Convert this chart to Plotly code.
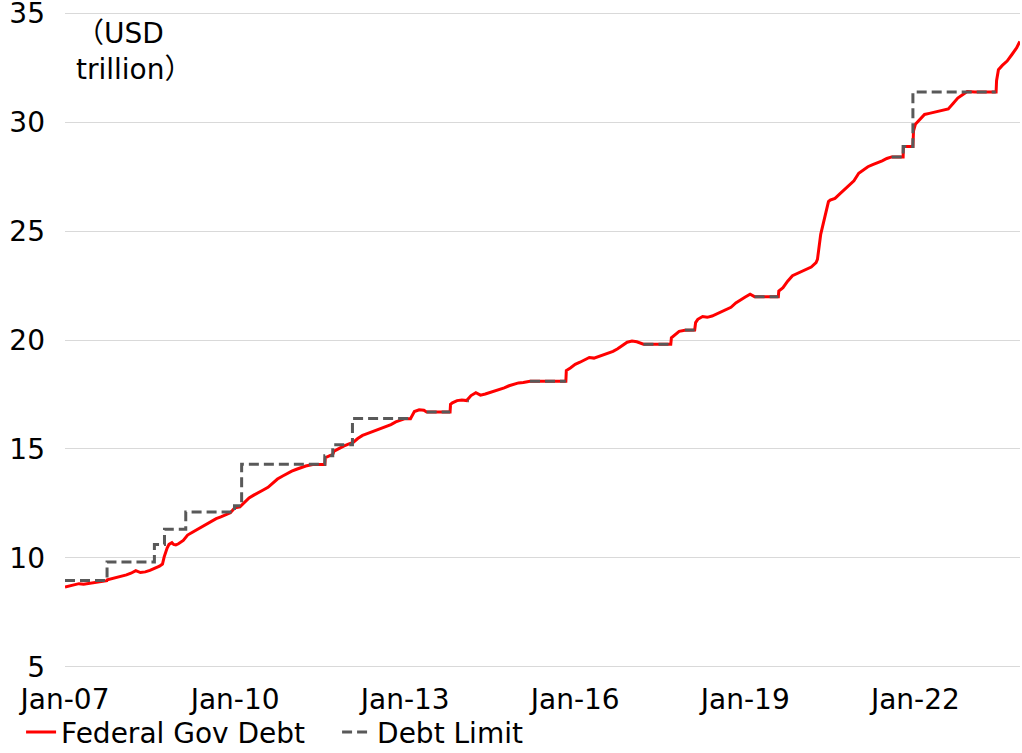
import plotly.graph_objects as go

# ---- Federal government debt (USD trillion) ----
debt_dates = [
    "2007-01-01","2007-02-01","2007-03-01","2007-04-01","2007-05-01","2007-06-01","2007-07-01","2007-08-01","2007-09-01","2007-09-28","2007-10-01","2007-11-01","2007-12-01",
    "2008-01-01","2008-02-01","2008-03-01","2008-04-01","2008-05-01","2008-06-01","2008-07-01","2008-08-01","2008-09-01","2008-09-20","2008-10-01","2008-10-20","2008-11-01","2008-11-20","2008-12-01","2008-12-15",
    "2009-01-01","2009-02-01","2009-03-01","2009-04-01","2009-05-01","2009-06-01","2009-07-01","2009-08-01","2009-09-01","2009-10-01","2009-11-01","2009-12-01","2009-12-28",
    "2010-01-01","2010-02-01","2010-03-01","2010-04-01","2010-05-01","2010-06-01","2010-07-01","2010-08-01","2010-09-01","2010-10-01","2010-11-01","2010-12-01",
    "2011-01-01","2011-02-01","2011-03-01","2011-04-01","2011-05-16","2011-08-02","2011-08-05","2011-09-01","2011-09-22","2011-10-01","2011-11-01","2011-12-01",
    "2012-01-01","2012-02-01","2012-03-01","2012-04-01","2012-05-01","2012-06-01","2012-07-01","2012-08-01","2012-09-01","2012-10-01","2012-11-01","2012-12-01","2012-12-31",
    "2013-02-04","2013-02-15","2013-03-01","2013-04-01","2013-05-01","2013-05-19","2013-10-17","2013-10-20","2013-11-01","2013-12-01",
    "2014-01-01","2014-02-01","2014-03-01","2014-04-01","2014-05-01","2014-06-01","2014-07-01","2014-08-01","2014-09-01","2014-10-01","2014-11-01","2014-12-01",
    "2015-01-01","2015-02-01","2015-03-16","2015-11-02","2015-11-05","2015-12-01",
    "2016-01-01","2016-02-01","2016-03-01","2016-04-01","2016-05-01","2016-06-01","2016-07-01","2016-08-01","2016-09-01","2016-10-01","2016-11-01","2016-12-01",
    "2017-01-01","2017-02-01","2017-03-16","2017-09-08","2017-09-12","2017-10-01","2017-11-01","2017-12-08",
    "2018-02-09","2018-02-15","2018-03-01","2018-04-01","2018-05-01","2018-06-01","2018-07-01","2018-08-01","2018-09-01","2018-10-01","2018-11-01","2018-12-01",
    "2019-01-01","2019-02-01","2019-03-02","2019-08-02","2019-08-05","2019-09-01","2019-10-01","2019-11-01","2019-12-01",
    "2020-01-01","2020-02-01","2020-03-01","2020-04-01","2020-04-10","2020-05-01","2020-06-01","2020-06-20","2020-07-01","2020-08-01","2020-09-01","2020-10-01","2020-11-01","2020-12-01",
    "2021-01-01","2021-02-01","2021-03-01","2021-04-01","2021-05-01","2021-06-01","2021-07-01","2021-08-01","2021-10-14","2021-10-16","2021-12-16","2021-12-20",
    "2022-01-01","2022-02-01","2022-03-01","2022-04-01","2022-05-01","2022-06-01","2022-07-01","2022-08-01","2022-09-01","2022-10-01","2022-11-01","2022-12-01",
    "2023-01-19","2023-06-05","2023-06-08","2023-06-20","2023-07-15","2023-08-15","2023-09-15","2023-10-15","2023-11-05",
]
debt_values = [
    8.67,8.72,8.80,8.82,8.79,8.82,8.86,8.90,8.94,8.96,9.00,9.05,9.12,
    9.17,9.22,9.30,9.42,9.33,9.36,9.43,9.52,9.62,9.72,10.05,10.45,10.62,10.70,10.62,10.60,
    10.65,10.80,11.05,11.18,11.30,11.45,11.58,11.68,11.80,11.88,11.98,12.07,12.28,
    12.30,12.34,12.55,12.75,12.88,13.02,13.12,13.24,13.42,13.62,13.75,13.87,
    13.98,14.07,14.15,14.22,14.29,14.29,14.60,14.69,14.75,14.90,15.03,15.13,
    15.22,15.30,15.48,15.62,15.70,15.78,15.88,15.96,16.03,16.12,16.24,16.33,16.39,
    16.39,16.55,16.72,16.80,16.78,16.70,16.70,17.05,17.12,17.22,
    17.25,17.22,17.45,17.58,17.47,17.52,17.58,17.65,17.72,17.80,17.90,17.97,
    18.03,18.05,18.11,18.11,18.60,18.72,
    18.88,18.98,19.08,19.20,19.17,19.24,19.33,19.40,19.48,19.60,19.75,19.90,
    19.95,19.92,19.81,19.81,20.10,20.20,20.40,20.45,
    20.46,20.80,20.95,21.08,21.04,21.10,21.20,21.30,21.40,21.50,21.70,21.85,
    21.97,22.10,21.99,21.99,22.25,22.40,22.70,22.95,23.05,
    23.15,23.22,23.35,23.55,23.70,24.85,25.85,26.35,26.42,26.50,26.70,26.90,27.10,27.30,
    27.65,27.80,27.95,28.05,28.12,28.22,28.33,28.40,28.40,28.88,28.88,29.60,
    29.90,30.15,30.35,30.40,30.45,30.50,30.55,30.60,30.85,31.10,31.25,31.40,
    31.38,31.38,31.90,32.40,32.60,32.80,33.10,33.40,33.70,
]

# ---- Statutory debt limit (USD trillion); gaps = suspension periods ----
limit_start = ["2007-01-01","2007-09-29","2008-07-30","2008-10-03","2009-02-17","2009-12-28","2010-02-12","2011-08-02","2011-09-22","2012-01-27",
               "2013-05-19","2014-02-07","2015-03-16","2017-03-16","2017-12-08","2019-03-02","2021-08-01","2021-10-14","2021-12-16"]
limit_end   = ["2007-09-29","2008-07-30","2008-10-03","2009-02-17","2009-12-28","2010-02-12","2011-08-02","2011-09-22","2012-01-27","2013-02-04",
               "2013-10-17","2014-02-15","2015-11-02","2017-09-08","2018-02-09","2019-08-02","2021-10-14","2021-12-16","2023-06-03"]
limit_value = [8.965, 9.815, 10.615, 11.315, 12.104, 12.394, 14.294, 14.694, 15.194, 16.394,
               16.699, 17.212, 18.113, 19.809, 20.456, 21.988, 28.401, 28.881, 31.381]

# ---- axis ticks ----
x_tickvals = ["2007-01-01","2010-01-01","2013-01-01","2016-01-01","2019-01-01","2022-01-01"]
x_ticktext = ["Jan-07","Jan-10","Jan-13","Jan-16","Jan-19","Jan-22"]
y_tickvals = [5, 10, 15, 20, 25, 30, 35]

# build step path for the limit
lx, ly = [], []
for i, (s, e, v) in enumerate(zip(limit_start, limit_end, limit_value)):
    if i > 0 and s != limit_end[i - 1]:
        lx.append(None); ly.append(None)
    lx += [s, e]; ly += [v, v]

FONT = "DejaVu Sans, Noto Sans CJK JP"
FS = 28
fig = go.Figure()
fig.add_trace(go.Scatter(x=debt_dates, y=debt_values, mode="lines", name="Federal Gov Debt",
                         line=dict(color="#ff0000", width=3), cliponaxis=False))
fig.add_trace(go.Scatter(x=lx, y=ly, mode="lines", name="Debt Limit", connectgaps=False,
                         line=dict(color="#595959", width=3, dash="10px,5px")))

fig.update_layout(
    width=1022, height=753,
    margin=dict(l=65, r=2, t=12, b=85, autoexpand=False),
    paper_bgcolor="white", plot_bgcolor="white",
    font=dict(family=FONT, size=FS, color="#000000"),
    showlegend=True,
    legend=dict(orientation="h", x=-0.046, y=-0.06, xanchor="left", yanchor="top",
                font=dict(size=FS), bgcolor="rgba(0,0,0,0)", itemwidth=30, tracegroupgap=0,
                entrywidth=271, entrywidthmode="pixels"),
    annotations=[dict(text="（USD<br>trillion）", xref="paper", yref="paper", x=0.0094, y=0.94,
                      xanchor="left", yanchor="middle", showarrow=False, align="left",
                      font=dict(size=FS))],
)
fig.update_xaxes(type="date", range=["2007-01-01", "2023-11-06"], tickvals=x_tickvals, ticktext=x_ticktext,
                 showgrid=False, showline=False, zeroline=False, ticks="", ticklabelstandoff=12,
                 automargin=False, ticklabeloverflow="allow")
fig.update_yaxes(range=[4.95, 35.05], tickvals=y_tickvals, showgrid=True, gridcolor="#d9d9d9", gridwidth=1,
                 showline=False, zeroline=False, ticks="", ticklabelstandoff=19, automargin=False,
                 ticklabeloverflow="allow")

fig.write_html("out.html", config={"displayModeBar": False},
               post_script="document.body.style.margin='0';")
